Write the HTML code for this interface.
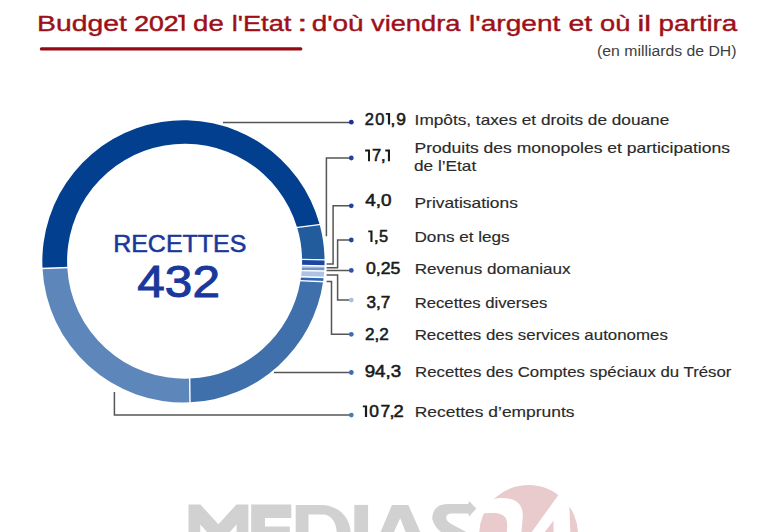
<!DOCTYPE html>
<html><head><meta charset="utf-8"><style>
html,body{margin:0;padding:0;background:#fff;}
body{width:778px;height:532px;overflow:hidden;position:relative;font-family:"Liberation Sans",sans-serif;}
svg{position:absolute;left:0;top:0;font-family:"Liberation Sans",sans-serif;}
</style></head><body>
<svg width="778" height="532" viewBox="0 0 778 532">
<rect x="39.8" y="47.3" width="262.6" height="3.2" rx="1.6" fill="#950a12"/>
<g><path d="M42.52,268.38A141.1,141.1 0 0 1 319.67,224.61L297.15,227.44A117.5,117.5 0 0 0 67.27,267.59Z" fill="#023f8f"/><path d="M319.67,224.61A141.1,141.1 0 0 1 324.54,259.81L302.09,259.42A117.5,117.5 0 0 0 297.15,227.44Z" fill="#225c9c"/><path d="M324.54,259.81A141.1,141.1 0 0 1 324.48,265.91L302.02,265.52A117.5,117.5 0 0 0 302.09,259.42Z" fill="#1a45a0"/><path d="M324.48,265.91A141.1,141.1 0 0 1 324.39,268.11L301.92,267.72A117.5,117.5 0 0 0 302.02,265.52Z" fill="#a6b5d9"/><path d="M324.39,268.11A141.1,141.1 0 0 1 324.22,271.00L301.72,270.61A117.5,117.5 0 0 0 301.92,267.72Z" fill="#7393c9"/><path d="M324.22,271.00A141.1,141.1 0 0 1 323.63,277.49L301.06,276.80A117.5,117.5 0 0 0 301.72,270.61Z" fill="#adc2e5"/><path d="M323.63,277.49A141.1,141.1 0 0 1 323.09,281.66L300.47,280.68A117.5,117.5 0 0 0 301.06,276.80Z" fill="#3068b5"/><path d="M323.09,281.66A141.1,141.1 0 0 1 190.00,402.35L189.70,378.59A117.5,117.5 0 0 0 300.47,280.68Z" fill="#3f70ab"/><path d="M190.00,402.35A141.1,141.1 0 0 1 42.52,268.38L67.27,267.59A117.5,117.5 0 0 0 189.70,378.59Z" fill="#5d86bb"/></g>
<g stroke="#fff" stroke-width="1.4"><line x1="68.77" y1="267.54" x2="41.02" y2="268.43"/><line x1="295.66" y1="227.63" x2="321.16" y2="224.42"/><line x1="300.59" y1="259.39" x2="326.04" y2="259.84"/><line x1="300.52" y1="265.49" x2="325.98" y2="265.93"/><line x1="300.22" y1="270.59" x2="325.72" y2="271.03"/><line x1="299.56" y1="276.76" x2="325.13" y2="277.53"/><line x1="298.98" y1="280.61" x2="324.59" y2="281.73"/><line x1="189.68" y1="377.09" x2="190.02" y2="403.85"/></g>
<g fill="none" stroke="#555" stroke-width="1.5"><path d="M223,122.4H351"/><path d="M326.4,236.2V158.1H351"/><path d="M326.6,263.9H333.1V205.8H351"/><path d="M326.6,267.8H337.6V240H351"/><path d="M326.6,270.5H351"/><path d="M326.6,275.1H337.6V300.1H351"/><path d="M326.6,281.5H331.5V334.3H351"/><path d="M273.9,372.5H351"/><path d="M114.4,392V415.1H351"/></g>
<g><circle cx="351.3" cy="122.2" r="2.4" fill="#1a2fa0"/><circle cx="351.3" cy="158.0" r="2.4" fill="#1f45a0"/><circle cx="351.3" cy="205.8" r="2.4" fill="#1f45a0"/><circle cx="351.3" cy="240" r="2.4" fill="#1f45a0"/><circle cx="351.3" cy="270.4" r="2.4" fill="#2a52a8"/><circle cx="351.3" cy="300.1" r="2.4" fill="#a9c0e2"/><circle cx="351.3" cy="334.3" r="2.4" fill="#3a6db5"/><circle cx="351.3" cy="372.5" r="2.4" fill="#3a6db5"/><circle cx="351.3" cy="415.1" r="2.4" fill="#4a7bbd"/></g>
<text x="37.00" y="30.65" font-size="22.8" fill="#9e1019" stroke="#9e1019" stroke-width="0.4" textLength="89.83" lengthAdjust="spacingAndGlyphs">Budget</text>
<text x="134.20" y="30.65" font-size="22.8" fill="#9e1019" stroke="#9e1019" stroke-width="0.55" textLength="44.39" lengthAdjust="spacingAndGlyphs">202</text>
<text x="193.10" y="30.65" font-size="22.8" fill="#9e1019" stroke="#9e1019" stroke-width="0.4" textLength="30.66" lengthAdjust="spacingAndGlyphs">de</text>
<text x="231.70" y="30.65" font-size="22.8" fill="#9e1019" stroke="#9e1019" stroke-width="0.4" textLength="59.66" lengthAdjust="spacingAndGlyphs">l&#x27;Etat</text>
<text x="297.30" y="30.65" font-size="22.8" fill="#9e1019" stroke="#9e1019" stroke-width="0.4" textLength="10.21" lengthAdjust="spacingAndGlyphs">:</text>
<text x="311.70" y="30.65" font-size="22.8" fill="#9e1019" stroke="#9e1019" stroke-width="0.4" textLength="51.94" lengthAdjust="spacingAndGlyphs">d&#x27;où</text>
<text x="371.10" y="30.65" font-size="22.8" fill="#9e1019" stroke="#9e1019" stroke-width="0.4" textLength="89.24" lengthAdjust="spacingAndGlyphs">viendra</text>
<text x="469.10" y="30.65" font-size="22.8" fill="#9e1019" stroke="#9e1019" stroke-width="0.4" textLength="91.31" lengthAdjust="spacingAndGlyphs">l&#x27;argent</text>
<text x="568.40" y="30.65" font-size="22.8" fill="#9e1019" stroke="#9e1019" stroke-width="0.4" textLength="23.79" lengthAdjust="spacingAndGlyphs">et</text>
<text x="600.10" y="30.65" font-size="22.8" fill="#9e1019" stroke="#9e1019" stroke-width="0.4" textLength="30.34" lengthAdjust="spacingAndGlyphs">où</text>
<text x="637.40" y="30.65" font-size="22.8" fill="#9e1019" stroke="#9e1019" stroke-width="0.4" textLength="13.57" lengthAdjust="spacingAndGlyphs">il</text>
<text x="658.50" y="30.65" font-size="22.8" fill="#9e1019" stroke="#9e1019" stroke-width="0.4" textLength="78.77" lengthAdjust="spacingAndGlyphs">partira</text>
<text x="597.10" y="55.8" font-size="14" fill="#3d3d3d" textLength="139.42" lengthAdjust="spacingAndGlyphs">(en milliards de DH)</text>
<text x="113.20" y="252.4" font-size="24.2" fill="#1a389c" stroke="#1a389c" stroke-width="0.55" textLength="133.13" lengthAdjust="spacingAndGlyphs">RECETTES</text>
<text x="137.30" y="297.4" font-size="45.2" fill="#1a389c" stroke="#1a389c" stroke-width="1.0" textLength="82.64" lengthAdjust="spacingAndGlyphs">432</text>
<text x="364.80" y="124.5" font-size="16.4" fill="#1a1a1a" stroke="#1a1a1a" stroke-width="0.55" textLength="9.17" lengthAdjust="spacingAndGlyphs">2</text>
<text x="375.30" y="124.5" font-size="16.4" fill="#1a1a1a" stroke="#1a1a1a" stroke-width="0.55" textLength="9.17" lengthAdjust="spacingAndGlyphs">0</text>
<text x="390.60" y="124.5" font-size="16.4" fill="#1a1a1a" stroke="#1a1a1a" stroke-width="0.55" textLength="4.85" lengthAdjust="spacingAndGlyphs">,</text>
<text x="396.30" y="124.5" font-size="16.4" fill="#1a1a1a" stroke="#1a1a1a" stroke-width="0.55" textLength="9.69" lengthAdjust="spacingAndGlyphs">9</text>
<text x="372.10" y="161.2" font-size="16.4" fill="#1a1a1a" stroke="#1a1a1a" stroke-width="0.55" textLength="9.20" lengthAdjust="spacingAndGlyphs">7</text>
<text x="380.80" y="161.2" font-size="16.4" fill="#1a1a1a" stroke="#1a1a1a" stroke-width="0.55" textLength="5.02" lengthAdjust="spacingAndGlyphs">,</text>
<text x="365.30" y="205.9" font-size="16.4" fill="#1a1a1a" stroke="#1a1a1a" stroke-width="0.55" textLength="26.27" lengthAdjust="spacingAndGlyphs">4,0</text>
<text x="373.80" y="241.9" font-size="16.4" fill="#1a1a1a" stroke="#1a1a1a" stroke-width="0.55" textLength="5.05" lengthAdjust="spacingAndGlyphs">,</text>
<text x="378.90" y="241.9" font-size="16.4" fill="#1a1a1a" stroke="#1a1a1a" stroke-width="0.55" textLength="9.12" lengthAdjust="spacingAndGlyphs">5</text>
<text x="366.00" y="273.9" font-size="16.4" fill="#1a1a1a" stroke="#1a1a1a" stroke-width="0.55" textLength="34.42" lengthAdjust="spacingAndGlyphs">0,25</text>
<text x="366.40" y="307.5" font-size="16.4" fill="#1a1a1a" stroke="#1a1a1a" stroke-width="0.55" textLength="23.81" lengthAdjust="spacingAndGlyphs">3,7</text>
<text x="365.10" y="340.2" font-size="16.4" fill="#1a1a1a" stroke="#1a1a1a" stroke-width="0.55" textLength="23.81" lengthAdjust="spacingAndGlyphs">2,2</text>
<text x="364.70" y="377.2" font-size="16.4" fill="#1a1a1a" stroke="#1a1a1a" stroke-width="0.55" textLength="36.42" lengthAdjust="spacingAndGlyphs">94,3</text>
<text x="369.30" y="417.2" font-size="16.4" fill="#1a1a1a" stroke="#1a1a1a" stroke-width="0.55" textLength="9.69" lengthAdjust="spacingAndGlyphs">0</text>
<text x="380.40" y="417.2" font-size="16.4" fill="#1a1a1a" stroke="#1a1a1a" stroke-width="0.55" textLength="9.71" lengthAdjust="spacingAndGlyphs">7</text>
<text x="389.60" y="417.2" font-size="16.4" fill="#1a1a1a" stroke="#1a1a1a" stroke-width="0.55" textLength="5.05" lengthAdjust="spacingAndGlyphs">,</text>
<text x="393.60" y="417.2" font-size="16.4" fill="#1a1a1a" stroke="#1a1a1a" stroke-width="0.55" textLength="10.21" lengthAdjust="spacingAndGlyphs">2</text>
<text x="414.60" y="124.5" font-size="14.4" fill="#2a2a2a" stroke="#2a2a2a" stroke-width="0.15" textLength="254.65" lengthAdjust="spacingAndGlyphs">Impôts, taxes et droits de douane</text>
<text x="414.50" y="152.8" font-size="14.4" fill="#2a2a2a" stroke="#2a2a2a" stroke-width="0.15" textLength="315.45" lengthAdjust="spacingAndGlyphs">Produits des monopoles et participations</text>
<text x="414.00" y="170.5" font-size="14.4" fill="#2a2a2a" stroke="#2a2a2a" stroke-width="0.15" textLength="62.20" lengthAdjust="spacingAndGlyphs">de l’Etat</text>
<text x="414.50" y="208.0" font-size="14.4" fill="#2a2a2a" stroke="#2a2a2a" stroke-width="0.15" textLength="103.41" lengthAdjust="spacingAndGlyphs">Privatisations</text>
<text x="414.50" y="242.1" font-size="14.4" fill="#2a2a2a" stroke="#2a2a2a" stroke-width="0.15" textLength="95.19" lengthAdjust="spacingAndGlyphs">Dons et legs</text>
<text x="414.70" y="273.9" font-size="14.4" fill="#2a2a2a" stroke="#2a2a2a" stroke-width="0.15" textLength="155.93" lengthAdjust="spacingAndGlyphs">Revenus domaniaux</text>
<text x="414.70" y="307.5" font-size="14.4" fill="#2a2a2a" stroke="#2a2a2a" stroke-width="0.15" textLength="132.60" lengthAdjust="spacingAndGlyphs">Recettes diverses</text>
<text x="414.70" y="340.2" font-size="14.4" fill="#2a2a2a" stroke="#2a2a2a" stroke-width="0.15" textLength="253.14" lengthAdjust="spacingAndGlyphs">Recettes des services autonomes</text>
<text x="415.10" y="376.9" font-size="14.4" fill="#2a2a2a" stroke="#2a2a2a" stroke-width="0.15" textLength="316.35" lengthAdjust="spacingAndGlyphs">Recettes des Comptes spéciaux du Trésor</text>
<text x="414.80" y="417.2" font-size="14.4" fill="#2a2a2a" stroke="#2a2a2a" stroke-width="0.15" textLength="159.70" lengthAdjust="spacingAndGlyphs">Recettes d’emprunts</text>

<path d="M178.15,14.8H184.6V30.8H181.7V17.30H178.15Z" fill="#9e1019"/><path d="M385.8,112.9H390.1V124.5H387.9V114.70H385.8Z" fill="#1a1a1a"/><path d="M365.1,149.6H370.0V161.3H368.0V151.40H365.1Z" fill="#1a1a1a"/><path d="M385.3,149.6H390.0V161.3H387.9V151.40H385.3Z" fill="#1a1a1a"/><path d="M368.2,230.4H372.5V241.9H370.4V232.20H368.2Z" fill="#1a1a1a"/><path d="M362.8,405.5H367.1V417.1H364.9V407.30H362.8Z" fill="#1a1a1a"/>
<circle cx="528.6" cy="534.3" r="49.4" fill="#e9cbcd"/>
<g fill="#fff">
<path d="M470,513L491,499.8C500,496.8 510,497.8 516,501.2C522,505 523.5,512 522.5,520L520.8,540L505.5,540C507.5,530 508,522 505.5,517.5C502.5,513.5 497,512.6 490,513L470,514Z"/>
<path d="M526,540L558.2,495.2L575,472L600,472L600,500L569.4,506.4L570.6,540ZM544.4,532.5L553.5,520.5L553.6,540L539,540Z" fill-rule="evenodd"/>
</g>
<g fill="#d1d1d1">
<path d="M188.5,504.5H200.4L218.4,524.3L236.4,504.5H248.4V540H236.6V524.5L228.9,533H207.9L200.3,524.6V540H188.5Z"/>
<path d="M251.2,504.6H291.3V518.1H265V526.6H289.8V540H251.2Z"/>
<path d="M295.7,504.9H320.8C338,504.9 350.7,517 350.7,534V540H336.8V534C336.8,522 331,514.4 322.9,514.4H308.5V540H295.7Z"/>
<path d="M354.3,504.9H368.1V540H354.3Z"/>
<path d="M392,505H408.3L423,538H378Z M400.2,518.3L393.9,532H405.6Z" fill-rule="evenodd"/>
<path d="M447.5,504L468.2,504L469.1,500.9L476.3,508.5L469.1,516.6L468.2,513.5L451.5,513.5Q446,513.5 446.2,518.4Q446.5,522 456,526.5L470,534L443.5,534Q434,527 432.2,518.4Q433,504 447.5,504Z" stroke="#fff" stroke-width="2.5" paint-order="stroke"/>
</g>
</svg>
</body></html>
